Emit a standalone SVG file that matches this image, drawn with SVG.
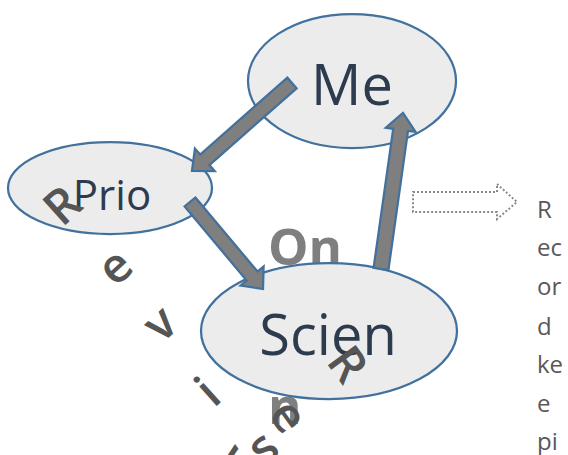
<svg xmlns="http://www.w3.org/2000/svg" width="568" height="455" viewBox="0 0 568 455">
<style>
.node{fill:#ececec;stroke:#41719c;stroke-width:2.25}
.lbl{font-family:"Open Sans","Liberation Sans",sans-serif;fill:#2d3b4f;text-anchor:middle}
.conn{fill:#7f7f7f;stroke:#41719c;stroke-width:2.25;stroke-linejoin:miter}
.big{font-family:"Open Sans","Liberation Sans",sans-serif;font-weight:bold;font-size:51px;fill:#7f7f7f}
.cv{font-family:"Open Sans","Liberation Sans",sans-serif;font-size:48px;font-weight:600;fill:#555555;text-anchor:middle}
.side{font-family:"Open Sans","Liberation Sans",sans-serif;font-size:24px;fill:#595959}
</style>
<defs>
<clipPath id="prioClip"><rect x="0" y="140" width="230" height="70.5"/></clipPath>
</defs>
<g id="node-me">
<ellipse class="node" cx="352" cy="81" rx="104" ry="67"/>
<text class="lbl" x="352" y="105" font-size="56">Me</text>
</g>
<g id="node-prio">
<ellipse class="node" cx="110" cy="188" rx="102" ry="46"/>
<text class="lbl" x="112" y="210" font-size="42" clip-path="url(#prioClip)">Prio</text>
</g>
<g id="text-on">
<text class="big" x="268" y="265">On</text>
<text class="big" x="268" y="424">n</text>
</g>
<g id="node-scien">
<ellipse class="node" cx="329" cy="331" rx="128" ry="68"/>
<text class="lbl" x="328" y="355" font-size="56">Scien</text>
</g>
<g id="connectors">
<polygon class="conn" points="296.6,88.3 209.4,165.1 214.7,171.1 192,171 194.9,148.5 200.2,154.5 287.4,77.7"/>
<polygon class="conn" points="195.4,197.5 257.5,271.5 263.6,266.4 263,289 240.6,285.6 246.7,280.5 184.6,206.5"/>
<polygon class="conn" points="388.4,270.1 408.0,130.9 415.5,131.9 403,113 385.8,127.7 393.2,128.8 373.6,267.9"/>
</g>
<g id="block-arrow">
<polygon points="413,192 497,192 497,184 517,202 497,219 497,212 413,212" fill="none" stroke="#8a8a8a" stroke-width="2" stroke-dasharray="2 2"/>
</g>
<g id="side-text">
<text class="side"><tspan x="537" y="218">R</tspan><tspan x="537" y="256">ec</tspan><tspan x="537" y="295">or</tspan><tspan x="537" y="335">d</tspan><tspan x="537" y="373">ke</tspan><tspan x="537" y="412">e</tspan><tspan x="537" y="450">pi</tspan></text>
</g>
<g id="rotated-text-1">
<text class="cv" transform="translate(62,205) rotate(-42)" y="17">R</text>
<text class="cv" transform="translate(117,269) rotate(-42)" y="13">e</text>
<text class="cv" transform="translate(162,326) rotate(-42)" y="13">v</text>
<text class="cv" transform="translate(207,391) rotate(-42)" y="17.5">i</text>
<text class="cv" transform="translate(265,450) rotate(-42)" y="13">s</text>
</g>
<g id="rotated-text-2">
<text class="cv" transform="translate(348,364) rotate(54)" y="17">R</text>
<text class="cv" transform="translate(286,418) rotate(54)" y="13">e</text>
<text class="cv" transform="translate(232,462) rotate(54)" y="13">v</text>
</g>
</svg>
